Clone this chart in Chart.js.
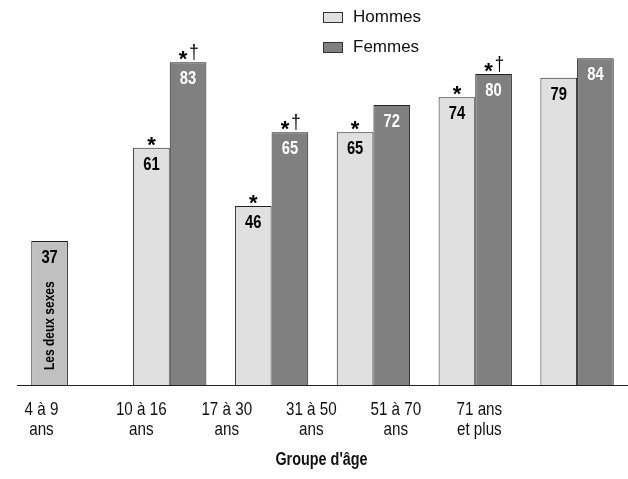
<!DOCTYPE html>
<html>
<head>
<meta charset="utf-8">
<script src="https://cdn.jsdelivr.net/npm/chart.js@4.4.1/dist/chart.umd.min.js"></script>
<style>
    body { margin: 0; background: #fff; }
    #wrap { position: relative; width: 628px; height: 479px; }
    .legend {
        position: absolute; left: 323px; top: 2px;
        font-family: 'Liberation Sans', Arial, sans-serif;
        font-size: 17px; color: #111;
    }
    .legend .item { display: flex; align-items: center; height: 30px; }
    .legend .box { width: 18px; height: 9px; border: 1px solid #333; margin-right: 10px; }
</style>
</head>
<body>
<div id="wrap">
    <canvas id="chart" width="628" height="479"></canvas>
    <div class="legend">
        <div class="item"><span class="box" style="background:#e0e0e0"></span>Hommes</div>
        <div class="item"><span class="box" style="background:#808080"></span>Femmes</div>
    </div>
</div>
<script>
// Age groups (x tick labels, two lines each)
const AGE_GROUPS = [
    ['4 à 9', 'ans'],
    ['10 à 16', 'ans'],
    ['17 à 30', 'ans'],
    ['31 à 50', 'ans'],
    ['51 à 70', 'ans'],
    ['71 ans', 'et plus']
];
// Tick label positions, in category units (labels sit left of the bar groups)
const LABEL_POS = [-0.26, 0.72, 1.56, 2.39, 3.22, 4.04];
const AXIS_TITLE = "Groupe d'âge";

const BOTH_SEXES = [37, null, null, null, null, null];
const MEN = [null, 61, 46, 65, 74, 79];
const WOMEN = [null, 83, 65, 72, 80, 84];

// Significance marks
const MEN_STAR = [false, true, true, true, true, false];
const WOMEN_STAR = [false, true, true, false, true, false];
const WOMEN_DAGGER = [false, true, true, false, true, false];

const FONT = "'Liberation Sans', Arial, sans-serif";

// draw text squeezed horizontally, to mimic the narrow face of the original
function narrowText(ctx, text, x, y, squeeze, angle) {
    ctx.save();
    ctx.translate(x, y);
    if (angle) ctx.rotate(angle);
    ctx.scale(squeeze, 1);
    ctx.fillText(text, 0, 0);
    ctx.restore();
}

const barLabels = {
    id: 'barLabels',
    afterDatasetsDraw(chart) {
        const ctx = chart.ctx;
        ctx.save();
        chart.data.datasets.forEach((ds, di) => {
            const meta = chart.getDatasetMeta(di);
            meta.data.forEach((bar, i) => {
                const v = ds.data[i];
                if (v == null) return;
                // value inside the top of the bar
                ctx.fillStyle = ds.valueColor;
                ctx.font = 'bold 18px ' + FONT;
                ctx.textAlign = 'center';
                ctx.textBaseline = 'middle';
                narrowText(ctx, String(v), bar.x, bar.y + 17, 0.82);

                const star = ds.stars && ds.stars[i];
                const dagger = ds.daggers && ds.daggers[i];
                ctx.fillStyle = '#000';
                ctx.textBaseline = 'alphabetic';
                if (star) {
                    ctx.font = 'bold 22px ' + FONT;
                    ctx.fillText('*', dagger ? bar.x - 5 : bar.x, bar.y + 4);
                }
                if (dagger) {
                    ctx.font = '20px ' + FONT;
                    narrowText(ctx, '\u2020', bar.x + 6, bar.y - 3, 0.85);
                }
                if (ds.sideLabel) {
                    ctx.font = 'bold 15px ' + FONT;
                    ctx.textAlign = 'left';
                    ctx.textBaseline = 'middle';
                    narrowText(ctx, ds.sideLabel, bar.x, bar.base - 15, 0.8, -Math.PI / 2);
                }
            });
        });
        ctx.restore();
    }
};

// tick labels and axis title, placed with the label scale
const axisLabels = {
    id: 'axisLabels',
    afterDraw(chart) {
        const ctx = chart.ctx;
        const scale = chart.scales.xl;
        const bottom = chart.chartArea.bottom;
        ctx.save();
        ctx.fillStyle = '#111';
        ctx.textAlign = 'center';
        ctx.textBaseline = 'alphabetic';
        ctx.font = '19px ' + FONT;
        LABEL_POS.forEach((p, i) => {
            const x = scale.getPixelForValue(p);
            AGE_GROUPS[i].forEach((line, k) => {
                narrowText(ctx, line, x, bottom + 30 + k * 20, 0.8);
            });
        });
        ctx.font = 'bold 18px ' + FONT;
        narrowText(ctx, AXIS_TITLE, (chart.chartArea.left + chart.chartArea.right) / 2 - 1, bottom + 80, 0.8);
        ctx.restore();
    }
};

const ctx = document.getElementById('chart').getContext('2d');
new Chart(ctx, {
    type: 'bar',
    data: {
        labels: AGE_GROUPS.map(l => l.join(' ')),
        datasets: [
            {
                label: 'Les deux sexes',
                data: BOTH_SEXES,
                stack: 'a',
                backgroundColor: '#c0c0c0',
                valueColor: '#000',
                sideLabel: 'Les deux sexes'
            },
            {
                label: 'Hommes',
                data: MEN,
                stack: 'a',
                backgroundColor: '#e0e0e0',
                valueColor: '#000',
                stars: MEN_STAR
            },
            {
                label: 'Femmes',
                data: WOMEN,
                stack: 'b',
                backgroundColor: '#808080',
                valueColor: '#fff',
                stars: WOMEN_STAR,
                daggers: WOMEN_DAGGER
            }
        ]
    },
    options: {
        responsive: false,
        animation: false,
        datasets: {
            bar: {
                borderColor: '#222',
                borderWidth: 1,
                categoryPercentage: 0.72,
                barPercentage: 1.0
            }
        },
        layout: { padding: { left: 17, right: 0, top: 0, bottom: 0 } },
        plugins: {
            legend: { display: false },
            tooltip: { enabled: false }
        },
        scales: {
            x: { display: false, stacked: true },
            xl: {
                type: 'linear',
                position: 'bottom',
                offset: false,
                min: -0.5,
                max: 5.5,
                bounds: 'data',
                afterFit: scale => { scale.height = 94; },
                grid: { display: false, drawTicks: false, offset: false },
                border: { display: true, color: '#222', width: 1 },
                ticks: { display: false },
                title: { display: false }
            },
            y: {
                display: false,
                stacked: true,
                min: 0,
                max: 99
            }
        }
    },
    plugins: [barLabels, axisLabels]
});
</script>
</body>
</html>
